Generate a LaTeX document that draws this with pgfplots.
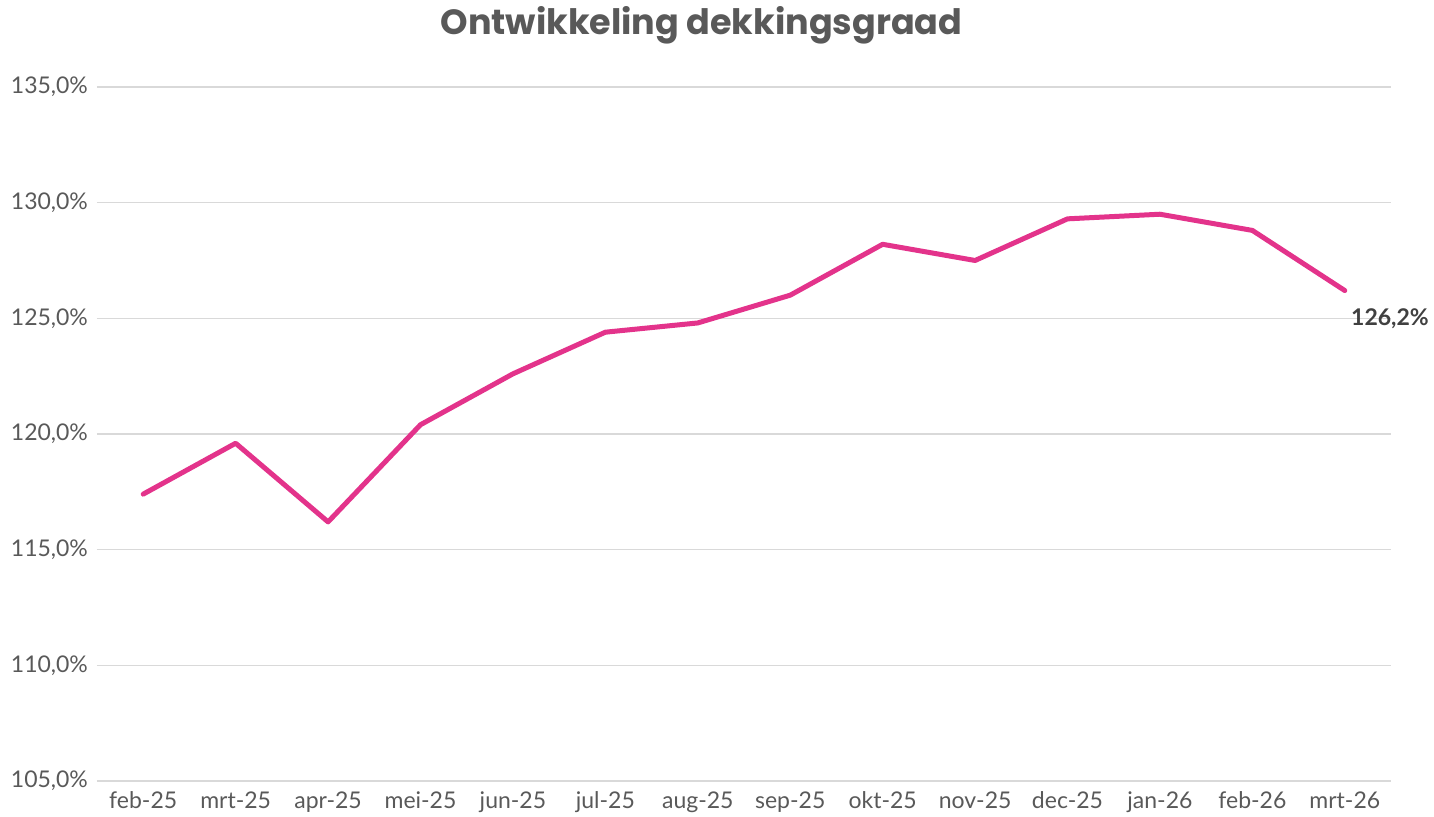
\documentclass[border=0pt]{standalone}
\usepackage{pgfplots}
\pgfplotsset{compat=1.18}
\usepackage{fontspec}
\setmainfont{Lato}
\newfontfamily\titlefont{Poppins}
\definecolor{linepink}{HTML}{E3338B}
\definecolor{gridgray}{HTML}{D9D9D9}
\definecolor{ticktext}{HTML}{595959}
\definecolor{labeltext}{HTML}{404040}
\begin{document}
\begin{tikzpicture}
\useasboundingbox (-48.5pt,-18pt) rectangle (668.5pt,390.5pt);
\begin{axis}[
  at={(0,0)}, anchor=south west,
  scale only axis, width=647pt, height=347pt,
  xmin=-0.5, xmax=13.5, ymin=105, ymax=135,
  xtick={0,...,13},
  xticklabels={feb-25,mrt-25,apr-25,mei-25,jun-25,jul-25,aug-25,sep-25,okt-25,nov-25,dec-25,jan-26,feb-26,mrt-26},
  ytick={105,110,115,120,125,130,135},
  yticklabels={{105,0\%},{110,0\%},{115,0\%},{120,0\%},{125,0\%},{130,0\%},{135,0\%}},
  ymajorgrids, grid style={gridgray, line width=0.75pt},
  axis x line*=bottom, axis y line*=left,
  x axis line style={gridgray, line width=0.75pt, -},
  y axis line style={draw=none},
  major tick length=0pt,
  tick label style={font=\fontsize{11.5}{13}\selectfont, text=ticktext},
  xticklabel style={yshift=-2pt},
  yticklabel style={xshift=-1pt},
  clip=false,
]
\addplot[linepink, line width=2.5pt, line join=round, line cap=round] coordinates {
(0,117.4) (1,119.6) (2,116.2) (3,120.4) (4,122.6) (5,124.4) (6,124.8)
(7,126.0) (8,128.2) (9,127.5) (10,129.3) (11,129.5) (12,128.8) (13,126.2)
};
\node[anchor=north west, font=\bfseries\fontsize{11.5}{13}\selectfont, text=labeltext, inner sep=0pt, xshift=3pt, yshift=-9pt] at (axis cs:13,126.2) {126,2\%};
\end{axis}
\node[font=\titlefont\bfseries\fontsize{17.5}{21}\selectfont, text=ticktext] at (302.25pt,378pt) {Ontwikkeling dekkingsgraad};
\end{tikzpicture}
\end{document}
